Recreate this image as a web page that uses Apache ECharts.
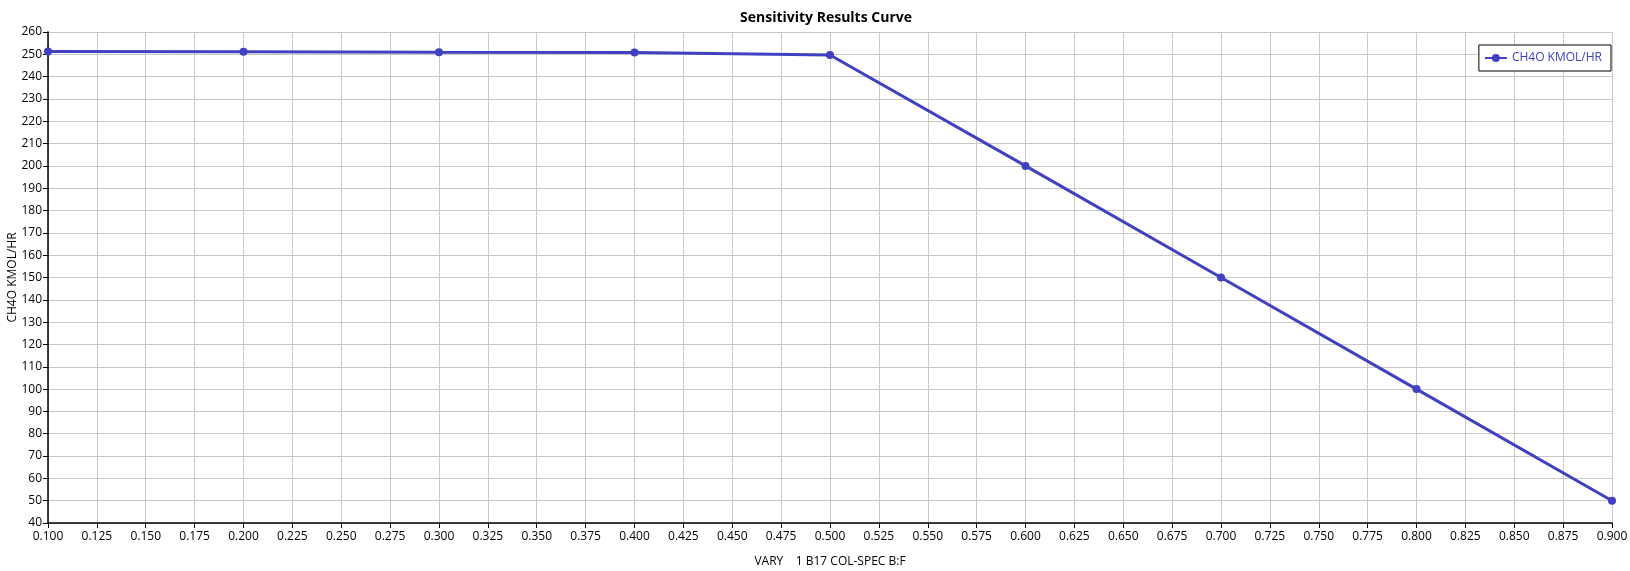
<!DOCTYPE html>
<html>
<head>
<meta charset="utf-8">
<script src="https://cdn.jsdelivr.net/npm/echarts@6/dist/echarts.min.js"></script>
<style>
html,body{margin:0;padding:0;background:#fff;}
#chart{width:1630px;height:571px;}
</style>
</head>
<body>
<div id="chart"></div>
<script>
var xValues = [0.1, 0.2, 0.3, 0.4, 0.5, 0.6, 0.7, 0.8, 0.9];
var ch4oValues = [251.3, 251.2, 250.9, 250.8, 249.7, 200, 150, 100, 50];
var seriesName = 'CH4O KMOL/HR';
var chartTitle = 'Sensitivity Results Curve';
var xAxisTitle = 'VARY    1 B17 COL-SPEC B:F';
var yAxisTitle = 'CH4O KMOL/HR';

var FONT = '"Open Sans", "Noto Sans", sans-serif';
var chart = echarts.init(document.getElementById('chart'));
chart.setOption({
  animation: false,
  backgroundColor: '#fff',
  title: {
    text: chartTitle,
    left: 821,
    textAlign: 'center',
    top: 6,
    textStyle: {fontFamily: FONT, fontSize: 14, fontWeight: 'bold', color: '#000'}
  },
  legend: {
    right: 19,
    top: 45,
    orient: 'vertical',
    backgroundColor: '#fff',
    borderColor: '#000',
    borderWidth: 1,
    borderRadius: 0,
    padding: [7, 9, 7, 5],
    itemWidth: 22,
    itemHeight: 10,
    itemGap: 4,
    textStyle: {fontFamily: FONT, fontSize: 12, color: '#4040C0'},
    data: [seriesName]
  },
  grid: {left: 48, right: 18, top: 32, bottom: 48, containLabel: false, outerBoundsMode: 'none'},
  xAxis: {
    type: 'value',
    min: 0.1,
    max: 0.9,
    interval: 0.025,
    name: xAxisTitle,
    nameLocation: 'middle',
    nameGap: 33,
    nameMoveOverlap: false,
    nameTextStyle: {fontFamily: FONT, fontSize: 12, color: '#000'},
    axisLine: {show: true, onZero: false, lineStyle: {color: '#000', width: 1.5}},
    axisTick: {show: true, length: 5, lineStyle: {color: '#000'}},
    axisLabel: {
      fontFamily: FONT, fontSize: 12, color: '#000', margin: 8,
      formatter: function (v) { return (Math.round(v * 1000) / 1000).toFixed(3); }
    },
    splitLine: {show: true, lineStyle: {color: '#c8c8c8', width: 1}}
  },
  yAxis: {
    type: 'value',
    min: 40,
    max: 260,
    interval: 10,
    name: yAxisTitle,
    nameLocation: 'middle',
    nameGap: 29,
    nameMoveOverlap: false,
    nameTextStyle: {fontFamily: FONT, fontSize: 12, color: '#000'},
    axisLine: {show: true, onZero: false, lineStyle: {color: '#000', width: 1.5}},
    axisTick: {show: true, length: 5, lineStyle: {color: '#000'}},
    axisLabel: {fontFamily: FONT, fontSize: 12, color: '#000', margin: 6},
    splitLine: {show: true, lineStyle: {color: '#c8c8c8', width: 1}}
  },
  series: [{
    name: seriesName,
    type: 'line',
    data: xValues.map(function (x, i) { return [x, ch4oValues[i]]; }),
    symbol: 'circle',
    symbolSize: 8,
    clip: false,
    lineStyle: {color: '#4040C0', width: 3},
    itemStyle: {color: '#4040C0'}
  }]
});
</script>
</body>
</html>
